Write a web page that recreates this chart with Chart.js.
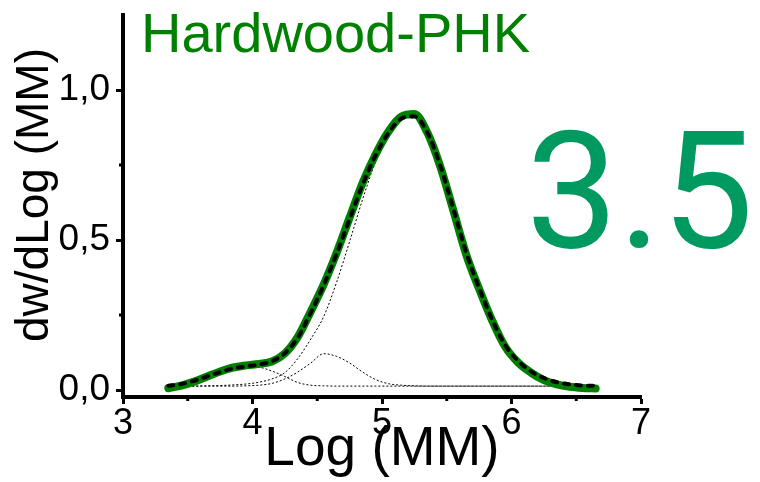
<!DOCTYPE html>
<html lang="en">
<head>
<meta charset="UTF-8" />
<title>Hardwood-PHK MMD</title>
<script src="https://cdn.jsdelivr.net/npm/chart.js"></script>
<style>
body { margin: 0; padding: 0; background: #fff; }
canvas { display: block; }
</style>
</head>
<body>
<canvas id="mmd" width="760" height="482"></canvas>

<script>
// log(MM) sampling grid
const logMM = [3.35, 3.45, 3.55, 3.65, 3.75, 3.85, 3.95, 4.05, 4.15, 4.25, 4.35, 4.45,
  4.55, 4.65, 4.75, 4.85, 4.95, 5.05, 5.15, 5.25, 5.35, 5.45, 5.55, 5.65,
  5.75, 5.85, 5.95, 6.05, 6.15, 6.25, 6.35, 6.45, 6.55, 6.65];

// measured distribution
const measured = [0.006, 0.015, 0.028, 0.045, 0.062, 0.075, 0.082, 0.087, 0.095, 0.122, 0.177, 0.262,
  0.352, 0.458, 0.575, 0.690, 0.785, 0.862, 0.912, 0.920, 0.858, 0.745, 0.600, 0.452,
  0.337, 0.232, 0.145, 0.092, 0.058, 0.033, 0.019, 0.011, 0.007, 0.005];

// sum of the three peaks
const fitSum = [0.014, 0.020, 0.031, 0.045, 0.060, 0.072, 0.079, 0.085, 0.096, 0.123, 0.175, 0.258,
  0.350, 0.455, 0.570, 0.685, 0.782, 0.857, 0.905, 0.912, 0.858, 0.748, 0.605, 0.458,
  0.340, 0.235, 0.150, 0.097, 0.062, 0.040, 0.026, 0.019, 0.015, 0.014];

// individual peaks
const peakLow = [0.014, 0.019, 0.029, 0.043, 0.058, 0.071, 0.078, 0.076, 0.063, 0.045, 0.025, 0.016,
  0.014, 0.013, 0.013, 0.013, 0.013, 0.013, 0.013, 0.013, 0.013, 0.013, 0.013, 0.013,
  0.013, 0.013, 0.013, 0.013, 0.013, 0.013, 0.013, 0.013, 0.013, 0.013];
const peakMid = [0.013, 0.013, 0.013, 0.013, 0.013, 0.013, 0.014, 0.016, 0.022, 0.037, 0.060, 0.090,
  0.121, 0.112, 0.090, 0.060, 0.035, 0.021, 0.016, 0.014, 0.013, 0.013, 0.013, 0.013,
  0.013, 0.013, 0.013, 0.013, 0.013, 0.013, 0.013, 0.013, 0.013, 0.013];
const peakMain = [0.013, 0.013, 0.013, 0.014, 0.015, 0.017, 0.020, 0.026, 0.037, 0.058, 0.105, 0.170,
  0.245, 0.360, 0.495, 0.635, 0.760, 0.850, 0.902, 0.912, 0.858, 0.748, 0.605, 0.458,
  0.340, 0.235, 0.150, 0.097, 0.062, 0.040, 0.026, 0.019, 0.015, 0.014];

const xTicks = [3, 4, 5, 6, 7];
const xMinorTicks = [3.5, 4.5, 5.5, 6.5];
const yTicks = [0, 0.5, 1.0];
const yMinorTicks = [0.25, 0.75];

const FONT = "'Liberation Sans', Arial, sans-serif";

function pts(ys) {
  return logMM.map((x, i) => ({ x: x, y: ys[i] }));
}

function peakSet(label, ys) {
  return {
    label: label,
    data: pts(ys),
    borderColor: '#000',
    borderWidth: 1,
    borderDash: [2, 2],
    pointRadius: 0,
    cubicInterpolationMode: 'monotone',
    order: 2
  };
}

// minor ticks, titles and the big label
const decorations = {
  id: 'decorations',
  afterDraw(chart) {
    const ctx = chart.ctx;
    const xs = chart.scales.x, ys = chart.scales.y;
    const area = chart.chartArea;
    ctx.save();
    ctx.strokeStyle = '#000';
    ctx.lineWidth = 3;
    xMinorTicks.forEach(v => {
      const px = xs.getPixelForValue(v);
      ctx.beginPath();
      ctx.moveTo(px, area.bottom);
      ctx.lineTo(px, area.bottom + 4);
      ctx.stroke();
    });
    yMinorTicks.forEach(v => {
      const py = ys.getPixelForValue(v);
      ctx.beginPath();
      ctx.moveTo(area.left, py);
      ctx.lineTo(area.left - 4, py);
      ctx.stroke();
    });

    ctx.fillStyle = '#008000';
    ctx.font = '56px ' + FONT;
    ctx.textAlign = 'left';
    ctx.textBaseline = 'alphabetic';
    ctx.fillText('Hardwood-PHK', 141, 52);

    ctx.fillStyle = '#009a60';
    ctx.font = "164px Roboto, 'Liberation Sans', sans-serif";
    ctx.fillText('3.5', 526, 247);

    ctx.fillStyle = '#000';
    ctx.font = '46px ' + FONT;
    ctx.translate(48, 195);
    ctx.rotate(-Math.PI / 2);
    ctx.textAlign = 'center';
    ctx.fillText('dw/dLog (MM)', 0, 0);
    ctx.restore();
  }
};

new Chart(document.getElementById('mmd').getContext('2d'), {
  type: 'line',
  data: {
    datasets: [
      {
        label: 'Fit',
        data: pts(fitSum),
        borderColor: '#000',
        borderWidth: 4,
        borderDash: [5, 7],
        borderCapStyle: 'round',
        pointRadius: 0,
        cubicInterpolationMode: 'monotone',
        order: 0
      },
      {
        label: 'Hardwood-PHK',
        data: pts(measured),
        borderColor: '#008000',
        borderWidth: 8,
        borderCapStyle: 'round',
        borderJoinStyle: 'round',
        pointRadius: 0,
        cubicInterpolationMode: 'monotone',
        order: 1
      },
      peakSet('Peak 1', peakLow),
      peakSet('Peak 2', peakMid),
      peakSet('Peak 3', peakMain)
    ]
  },
  options: {
    responsive: false,
    devicePixelRatio: 1,
    animation: false,
    layout: { padding: { top: 15, right: 119, left: 0, bottom: 0 } },
    plugins: {
      legend: { display: false },
      tooltip: { enabled: false }
    },
    scales: {
      x: {
        type: 'linear',
        min: 3,
        max: 7,
        afterBuildTicks: s => { s.ticks = xTicks.map(v => ({ value: v })); },
        afterFit: s => { s.height = 85; s.paddingLeft = 0; s.paddingRight = 0; },
        border: { display: true, width: 4, color: '#000' },
        grid: { drawOnChartArea: false, drawTicks: true, tickLength: 7, tickWidth: 3, tickColor: '#000' },
        ticks: { color: '#000', font: { family: FONT, size: 36 }, padding: -2, maxRotation: 0 },
        title: {
          display: true,
          text: 'Log (MM)',
          color: '#000',
          font: { family: FONT, size: 55 },
          padding: { top: 0, bottom: -1 }
        }
      },
      y: {
        type: 'linear',
        min: -0.0233,
        max: 1.25,
        afterBuildTicks: s => { s.ticks = yTicks.map(v => ({ value: v })); },
        afterFit: s => { s.width = 123; s.paddingTop = 0; s.paddingBottom = 0; },
        border: { display: true, width: 4, color: '#000' },
        grid: { drawOnChartArea: false, drawTicks: true, tickLength: 7, tickWidth: 3, tickColor: '#000' },
        ticks: {
          color: '#000',
          font: { family: FONT, size: 37 },
          padding: 6,
          callback: v => v.toFixed(1).replace('.', ',')
        }
      }
    }
  },
  plugins: [decorations]
});
</script>
</body>
</html>
